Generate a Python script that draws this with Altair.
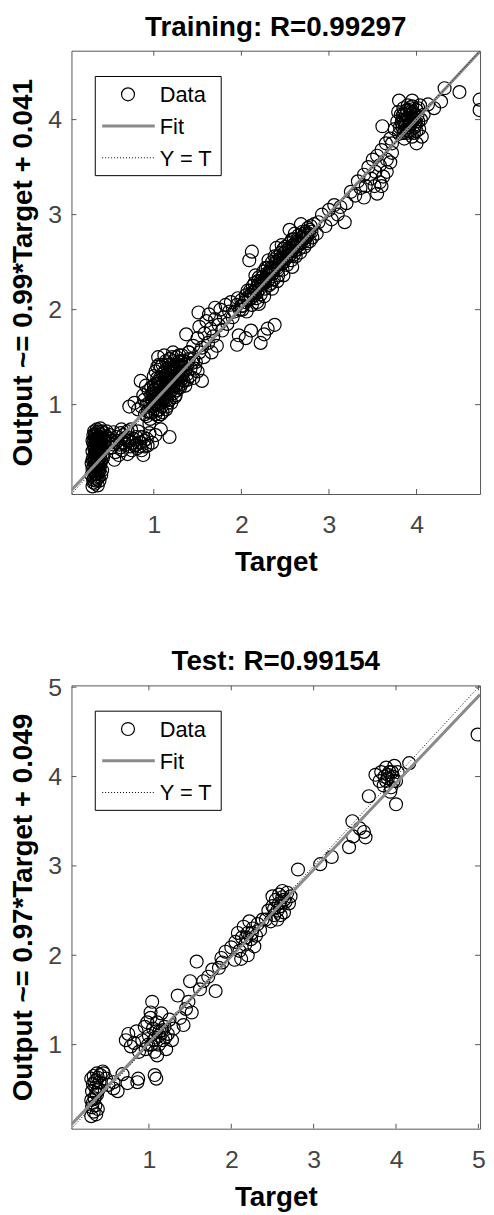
import altair as alt
import pandas as pd

FONT = "Liberation Sans"
W, H = 412, 447

# ---------------- Training panel data (Target, Output) ----------------
train_title = "Training: R=0.99297"
train_ylabel = "Output ~= 0.99*Target + 0.041"
train_slope, train_intercept = 0.99, 0.041
train_limits = [0.06, 4.725]
train_ticks = [1, 2, 3, 4]

train_column = [
    [0.30, 0.14], [0.33, 0.17], [0.36, 0.15], [0.31, 0.21], [0.35, 0.22], [0.38, 0.20], [0.29, 0.26], [0.33, 0.27],
    [0.37, 0.28], [0.40, 0.26], [0.30, 0.32], [0.34, 0.33], [0.38, 0.34], [0.41, 0.31], [0.29, 0.38], [0.32, 0.40],
    [0.36, 0.39], [0.40, 0.41], [0.31, 0.45], [0.35, 0.46], [0.39, 0.47], [0.42, 0.44], [0.30, 0.51], [0.34, 0.52],
    [0.38, 0.53], [0.41, 0.55], [0.32, 0.57], [0.36, 0.59], [0.40, 0.60], [0.30, 0.62], [0.34, 0.64], [0.38, 0.66],
    [0.42, 0.65], [0.33, 0.69], [0.37, 0.71], [0.41, 0.72], [0.35, 0.74], [0.39, 0.75], [0.43, 0.70], [0.44, 0.62],
    [0.31, 0.18], [0.34, 0.20], [0.37, 0.24], [0.32, 0.30], [0.36, 0.31], [0.39, 0.37], [0.33, 0.36], [0.37, 0.42],
    [0.33, 0.50], [0.37, 0.50], [0.35, 0.56], [0.39, 0.57], [0.31, 0.59], [0.35, 0.62], [0.39, 0.69], [0.32, 0.72],
    [0.36, 0.66], [0.40, 0.68], [0.34, 0.45], [0.38, 0.55],
    [0.32, 0.23], [0.35, 0.27], [0.38, 0.31], [0.31, 0.35], [0.34, 0.38], [0.37, 0.36], [0.30, 0.42], [0.33, 0.44],
    [0.36, 0.50], [0.40, 0.52], [0.32, 0.54], [0.36, 0.55], [0.34, 0.60], [0.38, 0.60], [0.33, 0.67], [0.37, 0.64],
    [0.40, 0.64], [0.36, 0.72], [0.31, 0.68], [0.39, 0.44],
    [0.33, 0.31], [0.36, 0.35], [0.35, 0.41], [0.38, 0.48], [0.33, 0.55], [0.37, 0.56], [0.35, 0.68], [0.39, 0.62],
    [0.32, 0.63], [0.34, 0.49],
]
train_shelf = [
    [0.46, 0.72], [0.50, 0.68], [0.54, 0.71], [0.58, 0.66], [0.62, 0.70], [0.66, 0.64], [0.48, 0.60], [0.52, 0.55],
    [0.56, 0.50], [0.60, 0.47], [0.55, 0.42], [0.64, 0.52], [0.68, 0.58], [0.72, 0.62], [0.70, 0.48], [0.75, 0.52],
    [0.78, 0.57], [0.80, 0.66], [0.84, 0.60], [0.86, 0.52], [0.88, 0.47], [0.90, 0.56], [0.92, 0.64], [0.95, 0.70],
    [0.82, 0.72], [0.74, 0.74], [0.98, 0.60], [1.02, 0.68], [1.08, 0.74], [1.18, 0.66],
    [0.47, 0.66], [0.52, 0.62], [0.57, 0.60], [0.61, 0.58], [0.65, 0.68], [0.69, 0.66], [0.73, 0.56], [0.77, 0.64],
    [0.81, 0.54], [0.85, 0.66], [0.89, 0.62], [0.93, 0.57], [0.63, 0.74], [0.70, 0.72],
    [0.50, 0.64], [0.54, 0.58], [0.58, 0.62], [0.62, 0.55], [0.66, 0.60], [0.70, 0.62], [0.76, 0.60], [0.80, 0.58],
    [0.84, 0.56], [0.88, 0.66],
]
train_mid = [
    [0.72, 0.98], [0.78, 1.02], [0.82, 0.95], [0.85, 1.25], [0.88, 1.10], [0.90, 0.90], [0.92, 1.00], [0.94, 1.15],
    [0.96, 0.85], [0.98, 1.05], [1.00, 1.20], [1.00, 0.95], [1.02, 1.35], [1.03, 1.10], [1.05, 0.88], [1.05, 1.50],
    [1.06, 1.25], [1.08, 1.02], [1.08, 1.40], [1.10, 1.15], [1.10, 0.92], [1.12, 1.30], [1.12, 1.52], [1.14, 1.05],
    [1.15, 1.22], [1.15, 0.98], [1.17, 1.42], [1.18, 1.12], [1.20, 1.30], [1.20, 1.02], [1.22, 1.20], [1.22, 1.55],
    [1.24, 1.38], [1.25, 1.10], [1.26, 1.28], [1.28, 1.45], [1.30, 1.18], [1.30, 1.35], [1.32, 1.52], [1.34, 1.25],
    [1.35, 1.42], [1.38, 1.32], [1.40, 1.48], [1.42, 1.38], [1.45, 1.28], [1.48, 1.45], [1.50, 1.35], [1.52, 1.55],
    [1.55, 1.25], [0.95, 0.80], [1.00, 1.08], [1.04, 1.00], [1.07, 1.18], [1.11, 1.08], [1.13, 1.36], [1.16, 1.28],
    [1.19, 1.18], [1.23, 1.46], [1.27, 1.22], [1.33, 1.40],
    [0.97, 1.00], [0.99, 1.12], [1.01, 1.02], [1.03, 1.18], [1.05, 1.08], [1.07, 1.28], [1.09, 1.10], [1.11, 1.22],
    [1.13, 1.12], [1.15, 1.32], [1.17, 1.20], [1.19, 1.38], [1.21, 1.25], [1.23, 1.35], [1.25, 1.20], [1.27, 1.40],
    [1.29, 1.28], [1.31, 1.46], [1.33, 1.32], [1.36, 1.36], [1.38, 1.42], [1.41, 1.30], [1.44, 1.44], [1.47, 1.38],
    [0.93, 0.93], [0.97, 1.18], [1.02, 0.90], [1.06, 1.42], [1.09, 0.98], [1.14, 1.46], [1.18, 1.05], [1.21, 1.50],
    [1.26, 1.15], [1.29, 1.52], [1.36, 1.20], [1.40, 1.55], [0.89, 1.05], [0.86, 0.98], [0.91, 1.20], [1.00, 1.30],
    [1.00, 1.15], [1.02, 1.22], [1.04, 1.28], [1.06, 1.12], [1.08, 1.20], [1.10, 1.32], [1.12, 1.18], [1.14, 1.25],
    [1.16, 1.38], [1.18, 1.26], [1.20, 1.20], [1.22, 1.40], [1.24, 1.28], [1.26, 1.35], [1.28, 1.32], [1.30, 1.42],
    [1.32, 1.30], [1.34, 1.46], [1.06, 0.95], [1.10, 1.05], [1.14, 0.95], [1.16, 1.12], [1.20, 1.15], [1.24, 1.08],
    [0.98, 0.92], [1.02, 1.05], [1.26, 1.50], [1.18, 1.48], [1.10, 1.42], [1.04, 1.40],
    [0.95, 1.02], [0.97, 1.10], [0.99, 0.98], [1.01, 1.16], [1.03, 1.06], [1.05, 1.22], [1.07, 1.06], [1.09, 1.26],
    [1.11, 1.14], [1.13, 1.28], [1.15, 1.16], [1.17, 1.34], [1.19, 1.24], [1.21, 1.36], [1.23, 1.22], [1.25, 1.42],
    [1.27, 1.30], [1.29, 1.40], [1.31, 1.26], [1.35, 1.46], [0.92, 0.88], [0.96, 0.92], [1.04, 0.94], [1.08, 0.90],
    [1.12, 1.06], [1.16, 1.02], [1.22, 1.12], [1.28, 1.18], [1.32, 1.22], [1.38, 1.26],
]
train_upper_mid = [
    [1.40, 1.55], [1.45, 1.62], [1.37, 1.74], [1.50, 1.70], [1.52, 1.82], [1.55, 1.60], [1.51, 1.97], [1.58, 1.75],
    [1.60, 1.88], [1.63, 1.95], [1.62, 1.65], [1.65, 1.80], [1.68, 1.72], [1.70, 1.90], [1.72, 1.62], [1.74, 1.84],
    [1.76, 2.00], [1.78, 1.78], [1.80, 1.92], [1.82, 2.05], [1.84, 1.85], [1.86, 1.98], [1.88, 2.08], [1.90, 1.92],
    [1.57, 1.50], [1.66, 1.55], [1.45, 1.48], [1.70, 2.02],
]
train_low_outliers = [
    [1.95, 1.63], [1.97, 1.73], [2.11, 1.78], [2.22, 1.65], [2.30, 1.80], [2.38, 1.84], [2.05, 1.70], [2.26, 1.74],
]
train_band = [
    [1.92, 1.98], [1.95, 2.05], [1.98, 2.00], [2.00, 2.10], [2.02, 2.04], [2.05, 2.15], [2.06, 1.98], [2.08, 2.10],
    [2.10, 2.20], [2.12, 2.05], [2.14, 2.18], [2.15, 2.28], [2.17, 2.12], [2.18, 2.24], [2.20, 2.34], [2.22, 2.16],
    [2.23, 2.28], [2.25, 2.40], [2.27, 2.22], [2.28, 2.33], [2.30, 2.44], [2.32, 2.26], [2.33, 2.38], [2.35, 2.50],
    [2.37, 2.32], [2.38, 2.44], [2.40, 2.55], [2.42, 2.36], [2.43, 2.48], [2.45, 2.60], [2.47, 2.42], [2.48, 2.54],
    [2.50, 2.66], [2.52, 2.47], [2.53, 2.58], [2.55, 2.70], [2.57, 2.52], [2.58, 2.62], [2.60, 2.74], [2.62, 2.56],
    [2.63, 2.66], [2.65, 2.78], [2.67, 2.60], [2.68, 2.70], [2.70, 2.82], [2.72, 2.66], [2.74, 2.76], [2.76, 2.86],
    [2.78, 2.72], [2.80, 2.82], [2.83, 2.90], [2.86, 2.80], [2.88, 2.92], [2.20, 2.06], [2.35, 2.22], [2.48, 2.36],
    [2.58, 2.45], [2.40, 2.65], [2.55, 2.84], [2.68, 2.90], [2.12, 2.61], [2.09, 2.52],
    [1.96, 2.12], [2.01, 2.00], [2.04, 2.08], [2.07, 2.20], [2.11, 2.12], [2.13, 2.25], [2.16, 2.20], [2.19, 2.30],
    [2.21, 2.22], [2.24, 2.34], [2.26, 2.28], [2.29, 2.38], [2.31, 2.32], [2.34, 2.44], [2.36, 2.38], [2.39, 2.50],
    [2.41, 2.44], [2.44, 2.54], [2.46, 2.48], [2.49, 2.60], [2.51, 2.54], [2.54, 2.64], [2.56, 2.58], [2.59, 2.68],
    [2.61, 2.62], [2.64, 2.72], [2.66, 2.68], [2.69, 2.76], [2.71, 2.74], [2.73, 2.82], [2.75, 2.70], [2.77, 2.80],
    [2.79, 2.88], [2.81, 2.76], [2.16, 2.36], [2.31, 2.52], [2.46, 2.68], [2.61, 2.80], [2.26, 2.14], [2.41, 2.30],
    [2.10, 2.15], [2.15, 2.15], [2.20, 2.26], [2.25, 2.30], [2.30, 2.36], [2.35, 2.40], [2.40, 2.46], [2.45, 2.52],
    [2.50, 2.56], [2.55, 2.62], [2.60, 2.66], [2.65, 2.70], [2.70, 2.76], [2.75, 2.78], [2.22, 2.30], [2.32, 2.40],
    [2.42, 2.52], [2.52, 2.62], [2.62, 2.70], [2.72, 2.80],
    [2.00, 2.04], [2.06, 2.12], [2.12, 2.18], [2.18, 2.18], [2.24, 2.26], [2.30, 2.30], [2.36, 2.44], [2.42, 2.42],
    [2.48, 2.50], [2.54, 2.56], [2.60, 2.58], [2.66, 2.64], [2.72, 2.72], [2.78, 2.84], [2.28, 2.44], [2.38, 2.56],
    [2.48, 2.64], [2.58, 2.74], [2.18, 2.08], [2.34, 2.28],
]
train_upper = [
    [2.92, 3.00], [2.96, 2.88], [3.00, 3.05], [3.03, 2.95], [3.06, 3.10], [3.10, 3.00], [3.13, 3.08], [3.18, 2.92],
    [3.20, 3.12], [3.25, 3.24], [3.30, 3.20], [3.33, 3.35], [3.36, 3.28], [3.40, 3.42], [3.42, 3.30], [3.45, 3.50],
    [3.48, 3.38], [3.50, 3.58], [3.53, 3.45], [3.55, 3.62], [3.58, 3.52], [3.60, 3.68], [3.62, 3.40], [3.65, 3.75],
    [3.66, 3.58], [3.70, 3.80], [3.72, 3.65], [3.40, 3.18], [3.52, 3.30], [3.58, 3.34], [3.55, 3.22], [3.66, 3.45],
    [3.60, 3.30], [3.70, 3.55],
]
train_top = [
    [3.75, 3.90], [3.78, 3.98], [3.80, 3.85], [3.82, 4.05], [3.84, 3.92], [3.85, 4.12], [3.86, 3.80], [3.88, 4.00],
    [3.90, 3.88], [3.90, 4.15], [3.92, 3.95], [3.93, 4.08], [3.95, 3.82], [3.96, 4.02], [3.98, 3.92], [4.00, 4.10],
    [4.02, 3.98], [4.04, 4.15], [4.06, 3.82], [4.08, 4.05], [3.61, 3.93], [3.72, 3.75], [3.80, 4.20], [3.95, 4.20],
    [4.00, 3.75], [3.87, 3.93], [3.93, 3.98], [3.98, 4.05], [3.83, 3.97], [3.89, 3.86], [4.13, 4.16], [4.20, 4.12],
    [4.28, 4.19], [4.32, 4.33], [4.49, 4.29], [4.72, 4.21], [4.72, 4.10],
    [3.81, 3.92], [3.84, 4.00], [3.86, 4.06], [3.88, 3.94], [3.90, 4.02], [3.91, 3.92], [3.93, 4.12], [3.94, 3.96],
    [3.96, 4.08], [3.97, 3.86], [3.99, 3.98], [4.01, 4.04], [4.03, 3.90], [4.05, 4.00], [3.85, 3.86], [3.89, 4.10],
    [3.92, 3.88], [3.95, 4.14], [4.00, 3.88], [3.79, 4.08],
    [3.86, 3.96], [3.88, 4.05], [3.91, 4.00], [3.94, 4.06], [3.97, 4.00], [3.92, 4.10], [3.87, 3.89], [3.99, 3.95],
    [4.02, 4.12], [3.84, 4.04],
]

# ---------------- Test panel data (Target, Output) ----------------
test_title = "Test: R=0.99154"
test_ylabel = "Output ~= 0.97*Target + 0.049"
test_slope, test_intercept = 0.97, 0.049
test_limits = [0.06, 5.02]
test_ticks = [1, 2, 3, 4, 5]

test_column = [
    [0.30, 0.20], [0.33, 0.25], [0.36, 0.22], [0.31, 0.30], [0.35, 0.32], [0.38, 0.28], [0.30, 0.38], [0.34, 0.40],
    [0.37, 0.44], [0.31, 0.48], [0.35, 0.52], [0.39, 0.50], [0.32, 0.56], [0.36, 0.60], [0.40, 0.58], [0.33, 0.65],
    [0.37, 0.68], [0.41, 0.66], [0.44, 0.70], [0.30, 0.62], [0.32, 0.35], [0.36, 0.46], [0.34, 0.58], [0.38, 0.63],
]
test_shelf = [
    [0.48, 0.62], [0.51, 0.55], [0.57, 0.58], [0.57, 0.51], [0.68, 0.67], [0.74, 0.57], [0.86, 0.58], [0.87, 0.62],
    [1.07, 0.66], [1.09, 0.62], [0.62, 0.48], [0.45, 0.68],
]
test_mid = [
    [0.72, 1.05], [0.75, 1.12], [0.78, 0.98], [0.82, 1.02], [0.85, 1.15], [0.88, 0.92], [0.92, 1.05], [0.95, 1.20],
    [0.96, 0.95], [1.00, 1.10], [1.02, 1.30], [1.03, 1.00], [1.04, 1.48], [1.05, 1.18], [1.07, 0.92], [1.08, 1.08],
    [1.10, 1.25], [1.12, 1.00], [1.13, 1.15], [1.15, 1.35], [1.17, 1.05], [1.19, 1.20], [1.21, 0.95], [1.23, 1.12],
    [1.25, 1.28], [1.28, 1.05], [1.30, 1.18], [1.02, 1.36], [0.98, 1.25], [1.10, 0.88], [1.06, 1.05], [1.12, 1.10],
    [1.16, 1.16], [1.20, 1.08], [0.99, 1.00], [1.09, 1.15],
]
test_band = [
    [1.35, 1.55], [1.38, 1.30], [1.42, 1.22], [1.45, 1.40], [1.48, 1.48], [1.52, 1.36], [1.50, 1.71], [1.58, 1.93],
    [1.62, 1.62], [1.66, 1.71], [1.77, 1.84], [1.72, 1.76], [1.81, 1.60], [1.85, 1.86], [1.89, 1.92], [1.93, 2.04],
    [2.00, 2.09], [2.04, 1.95], [1.88, 1.97],
]
test_cluster2 = [
    [2.05, 2.15], [2.08, 2.25], [2.10, 2.05], [2.13, 2.20], [2.15, 2.32], [2.17, 2.12], [2.20, 2.25], [2.22, 2.38],
    [2.24, 2.18], [2.26, 2.30], [2.28, 2.10], [2.30, 2.22], [2.32, 2.35], [2.35, 2.28], [2.38, 2.40], [2.12, 1.96],
    [2.20, 2.00], [2.25, 2.25], [2.18, 2.20],
]
test_cluster3 = [
    [2.42, 2.40], [2.45, 2.50], [2.48, 2.38], [2.50, 2.55], [2.52, 2.45], [2.54, 2.62], [2.56, 2.50], [2.58, 2.68],
    [2.60, 2.55], [2.62, 2.65], [2.64, 2.48], [2.66, 2.60], [2.68, 2.70], [2.70, 2.58], [2.72, 2.66], [2.56, 2.40],
    [2.62, 2.72], [2.50, 2.66], [2.58, 2.58], [2.64, 2.62], [2.60, 2.45], [2.52, 2.52],
]
test_upper = [
    [2.81, 2.96], [3.08, 3.02], [3.22, 3.10], [3.43, 3.21], [3.47, 3.50], [3.48, 3.33], [3.61, 3.38], [3.63, 3.32],
    [3.56, 3.42], [3.67, 3.78],
]
test_top = [
    [3.75, 4.02], [3.80, 3.95], [3.82, 4.05], [3.85, 3.90], [3.88, 4.10], [3.90, 3.98], [3.92, 4.05], [3.94, 3.88],
    [3.96, 4.00], [3.98, 4.12], [4.00, 3.95], [4.02, 4.05], [3.86, 4.00], [3.93, 3.83], [4.00, 3.69], [4.16, 4.15],
    [4.99, 4.47], [3.90, 4.02], [3.95, 4.05], [3.88, 3.95], [3.97, 3.95],
]

legend_labels = ["Data", "Fit", "Y = T"]


def panel(points, limits, slope, intercept, ticks, title, ylabel, title_offset):
    lo, hi = limits
    xs = alt.Scale(domain=[lo, hi], nice=False, zero=False)
    ys = alt.Scale(domain=[lo, hi], nice=False, zero=False)
    df = pd.DataFrame(points, columns=["Target", "Output"])

    pts = alt.Chart(df).mark_point(
        shape="circle", filled=False, color="black", size=170, strokeWidth=1.2, opacity=1, clip=True
    ).encode(
        x=alt.X("Target:Q", scale=xs, axis=alt.Axis(values=ticks, title="Target", format="d")),
        y=alt.Y("Output:Q", scale=ys, axis=alt.Axis(values=ticks, title=ylabel, format="d")),
    )
    fit_df = pd.DataFrame({"Target": [lo, hi], "Output": [slope * lo + intercept, slope * hi + intercept]})
    fit = alt.Chart(fit_df).mark_line(color="#8a8a8a", strokeWidth=3, clip=True).encode(
        x=alt.X("Target:Q", scale=xs), y=alt.Y("Output:Q", scale=ys)
    )
    ident_df = pd.DataFrame({"Target": [lo, hi], "Output": [lo, hi]})
    ident = alt.Chart(ident_df).mark_line(color="black", strokeWidth=1, strokeDash=[1, 2], clip=True).encode(
        x=alt.X("Target:Q", scale=xs), y=alt.Y("Output:Q", scale=ys)
    )

    xt = pd.DataFrame({"Target": ticks})
    yt = pd.DataFrame({"Output": ticks})
    tick_style = dict(color="#555555", strokeWidth=1, clip=True)
    tb = alt.Chart(xt).mark_rule(**tick_style).encode(
        x=alt.X("Target:Q", scale=xs), y=alt.value(H), y2=alt.value(H - 5))
    tt = alt.Chart(xt).mark_rule(**tick_style).encode(
        x=alt.X("Target:Q", scale=xs), y=alt.value(0), y2=alt.value(5))
    tl = alt.Chart(yt).mark_rule(**tick_style).encode(
        y=alt.Y("Output:Q", scale=ys), x=alt.value(0), x2=alt.value(5))
    tr = alt.Chart(yt).mark_rule(**tick_style).encode(
        y=alt.Y("Output:Q", scale=ys), x=alt.value(W), x2=alt.value(W - 5))

    one = pd.DataFrame({"k": [0]})
    box = alt.Chart(one).mark_rect(fill="white", stroke="black", strokeWidth=1).encode(
        x=alt.value(24), x2=alt.value(151), y=alt.value(26), y2=alt.value(126))
    lg_pt = alt.Chart(one).mark_point(shape="circle", filled=False, color="black", size=170, strokeWidth=1.2,
                                      opacity=1).encode(x=alt.value(57), y=alt.value(44))
    lg_fit = alt.Chart(one).mark_rule(color="#8a8a8a", strokeWidth=3).encode(
        x=alt.value(31), x2=alt.value(84), y=alt.value(76))
    lg_id = alt.Chart(one).mark_rule(color="black", strokeWidth=1, strokeDash=[1, 2]).encode(
        x=alt.value(31), x2=alt.value(84), y=alt.value(108))
    txt = dict(font=FONT, fontSize=22, align="left", baseline="middle", color="black")
    lg_t1 = alt.Chart(one).mark_text(**txt).encode(x=alt.value(89), y=alt.value(45), text=alt.value(legend_labels[0]))
    lg_t2 = alt.Chart(one).mark_text(**txt).encode(x=alt.value(89), y=alt.value(77), text=alt.value(legend_labels[1]))
    lg_t3 = alt.Chart(one).mark_text(**txt).encode(x=alt.value(89), y=alt.value(109), text=alt.value(legend_labels[2]))

    return alt.layer(
        pts, fit, ident, tb, tt, tl, tr, box, lg_pt, lg_fit, lg_id, lg_t1, lg_t2, lg_t3
    ).properties(
        width=W, height=H,
        title=alt.TitleParams(title, font=FONT, fontSize=28, fontWeight="bold", color="black",
                              anchor="middle", baseline="bottom", offset=title_offset),
    )


train_points = (train_column + train_shelf + train_mid + train_upper_mid + train_low_outliers
                + train_band + train_upper + train_top)
test_points = (test_column + test_shelf + test_mid + test_band + test_cluster2 + test_cluster3
               + test_upper + test_top)

p1 = panel(train_points, train_limits, train_slope, train_intercept, train_ticks, train_title, train_ylabel, -19)
p2 = panel(test_points, test_limits, test_slope, test_intercept, test_ticks, test_title, test_ylabel, -29)

chart = alt.vconcat(p1, p2, spacing=71).properties(
    padding={"left": 1, "top": 0, "right": 0, "bottom": 0},
    background="white",
).configure_view(
    stroke="#555555", strokeWidth=1
).configure_axis(
    domain=False, ticks=False, tickSize=0, grid=False,
    labelFont=FONT, labelFontSize=25, labelColor="#444444",
    titleFont=FONT, titleFontSize=28, titleFontWeight="bold", titleColor="black",
).configure_axisX(
    labelPadding=19, titlePadding=11, labelFlush=True
).configure_axisY(
    labelPadding=10, titlePadding=10
)

chart.save("out.html", embed_options={"renderer": "svg", "actions": False})
